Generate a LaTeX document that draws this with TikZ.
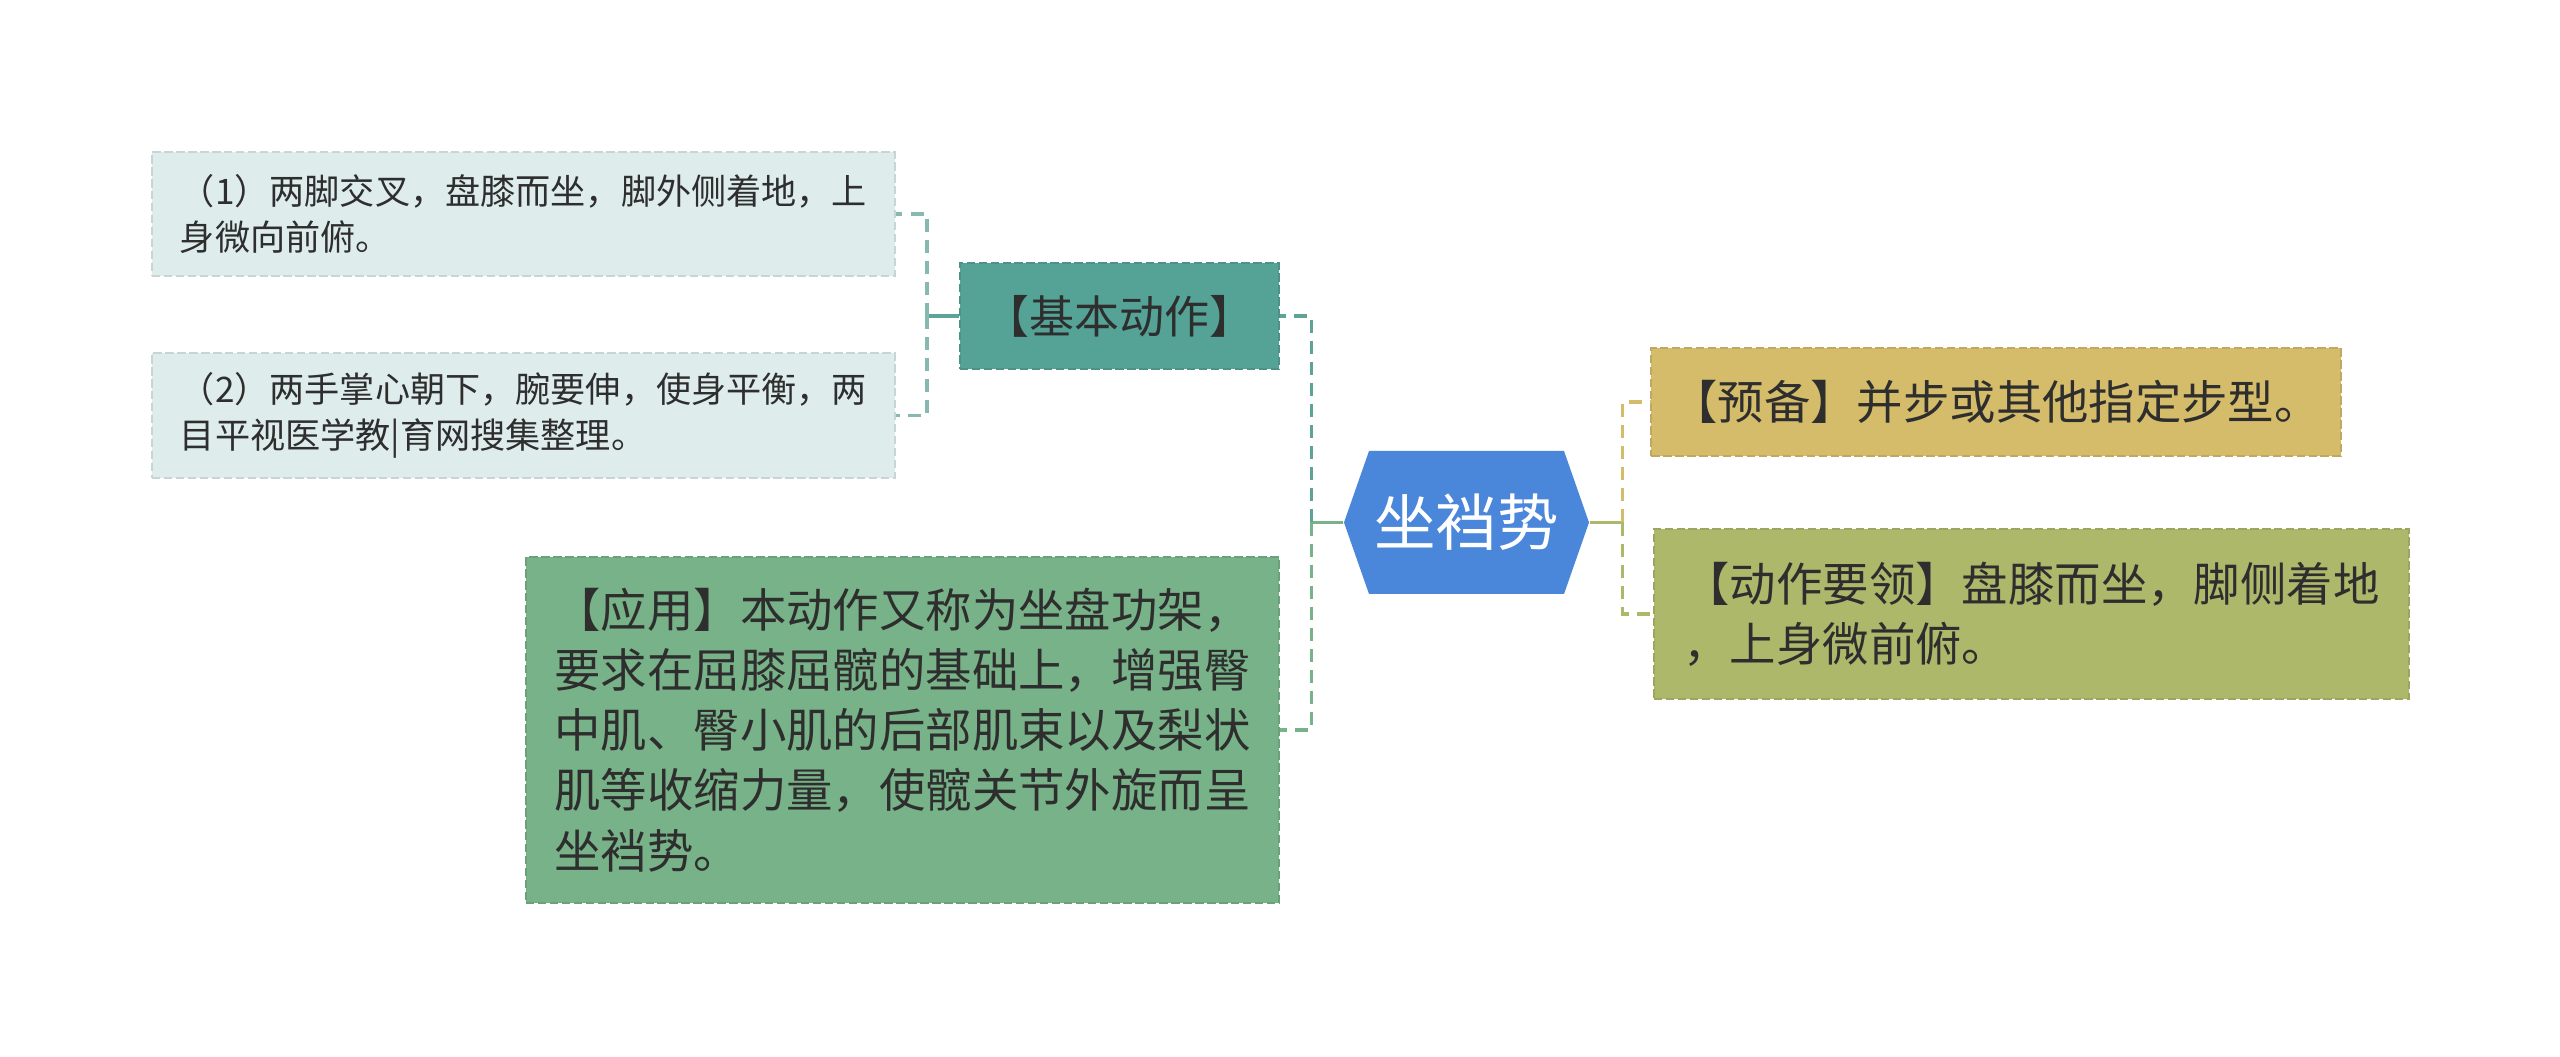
\documentclass[tikz,border=0pt]{standalone}
\usepackage{fontspec}
\setmainfont{Noto Sans CJK SC}
\usepackage{tikz}
\usetikzlibrary{positioning}

\definecolor{hubblue}{HTML}{4A86D9}
\definecolor{tealbox}{HTML}{55A296}
\definecolor{tealline}{HTML}{5FA298}
\definecolor{greenbox}{HTML}{78B288}
\definecolor{palebox}{HTML}{DEEDEB}
\definecolor{goldbox}{HTML}{D5BC6A}
\definecolor{olivebox}{HTML}{ADB86B}
\definecolor{inktext}{HTML}{2E2E2E}

\begin{document}
\begin{tikzpicture}[
    hub/.style={rectangle, minimum width=2.45cm, minimum height=1.43cm, inner sep=0pt, text=white,
        font=\fontsize{17.5pt}{21pt}\selectfont,
        path picture={\fill[hubblue] (path picture bounding box.west)
            -- ([xshift=0.25cm]path picture bounding box.north west)
            -- ([xshift=-0.25cm]path picture bounding box.north east)
            -- (path picture bounding box.east)
            -- ([xshift=-0.25cm]path picture bounding box.south east)
            -- ([xshift=0.25cm]path picture bounding box.south west) -- cycle;}},
    topic/.style={draw=#1!90!black, fill=#1, dash pattern=on 2.4pt off 1pt, line width=0.6pt,
        inner xsep=0.2cm, align=left, text=inktext},
    link/.style={line width=0.9pt, #1},
    bracket/.style={line width=0.9pt, dash pattern=on 3.7pt off 2.3pt, #1}]
    \useasboundingbox (0,0) rectangle (25.6,-10.57);
    \fill[white] (0,0) rectangle (25.6,-10.57);

    \node[hub] (hub) at (14.665, -5.225) {坐裆势};
    \node[topic=tealbox, minimum width=3.19cm, minimum height=1.06cm,
        font=\fontsize{12.8pt}{16pt}\selectfont] (basic) at (11.195, -3.16) {【基本动作】};
    \node[topic=greenbox, minimum width=7.53cm, minimum height=3.46cm,
        font=\fontsize{13.2pt}{17.1pt}\selectfont] (apply) at (9.025, -7.30)
        {【应用】本动作又称为坐盘功架，\\要求在屈膝屈髋的基础上，增强臀\\中肌、臀小肌的后部肌束以及梨状\\肌等收缩力量，使髋关节外旋而呈\\坐裆势。};
    \node[topic=palebox, minimum width=7.43cm, minimum height=1.24cm,
        font=\fontsize{10pt}{13.1pt}\selectfont] (step1) at (5.235, -2.14)
        {（1）两脚交叉，盘膝而坐，脚外侧着地，上\\身微向前俯。};
    \node[topic=palebox, minimum width=7.43cm, minimum height=1.25cm,
        font=\fontsize{10pt}{13.1pt}\selectfont] (step2) at (5.235, -4.155)
        {（2）两手掌心朝下，腕要伸，使身平衡，两\\目平视医学教|育网搜集整理。};
    \node[topic=goldbox, minimum width=6.84cm, minimum height=1.08cm,
        font=\fontsize{13.2pt}{17.1pt}\selectfont] (prep) at (19.96, -4.02)
        {【预备】并步或其他指定步型。};
    \node[topic=olivebox, minimum width=7.55cm, minimum height=1.70cm,
        font=\fontsize{13.2pt}{17.1pt}\selectfont] (keys) at (20.315, -6.14)
        {【动作要领】盘膝而坐，脚侧着地\\，上身微前俯。};

    % left side
    \coordinate[left=0.32cm of hub.west] (hubl);
    \coordinate[left=0.32cm of basic.west] (basicl);
    \draw[link=greenbox] (hub.west) -- (hubl);
    \draw[bracket=tealline] (hubl) |- (basic.east);
    \draw[bracket=greenbox] (hubl) |- (apply.east);
    \draw[link=tealline] (basic.west) -- (basicl);
    \draw[bracket=tealline!75] (basicl) |- (step1.east);
    \draw[bracket=tealline!75] (basicl) |- (step2.east);

    % right side
    \coordinate[right=0.33cm of hub.east] (hubr);
    \draw[link=olivebox] (hub.east) -- (hubr);
    \draw[bracket=goldbox] (hubr) |- (prep.west);
    \draw[bracket=olivebox] (hubr) |- (keys.west);
\end{tikzpicture}
\end{document}
